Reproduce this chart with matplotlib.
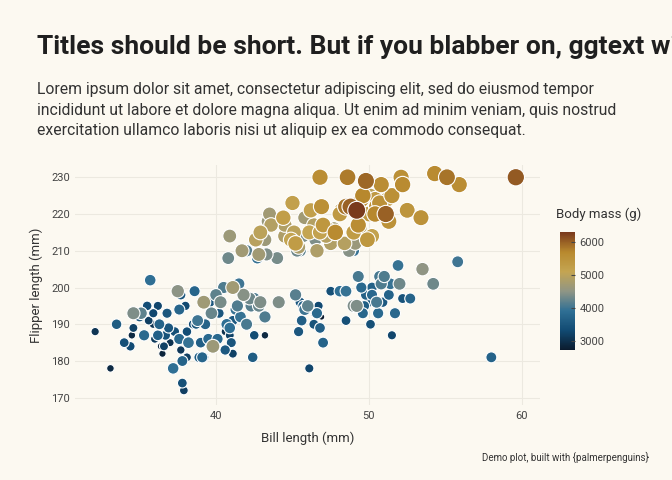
import matplotlib
matplotlib.use("Agg")
import matplotlib.pyplot as plt
from matplotlib.colors import LinearSegmentedColormap

BG = "#fcf9f1"
INK = "#1f1f1f"

# penguins: bill length (mm), flipper length (mm), body mass (g)
adelie_bill = [32.1, 33.1, 33.5, 34.0, 34.4, 34.5, 34.6, 34.6, 35.0, 35.1, 35.2, 35.3, 35.5, 35.6, 35.7, 35.9,
               36.0, 36.2, 36.3, 36.4, 36.5, 36.6, 36.7, 36.8, 36.9, 37.0, 37.2, 37.3, 37.5, 37.6, 37.7, 37.8,
               37.8, 37.9, 38.0, 38.1, 38.2, 38.5, 38.6, 38.7, 38.8, 39.0, 39.1, 39.2, 39.3, 39.5, 39.6, 39.7,
               39.8, 40.0, 40.1, 40.2, 40.3, 40.5, 40.6, 40.7, 40.8, 40.9, 41.0, 41.1, 41.3, 41.4, 41.5, 41.6,
               41.8, 42.0, 42.2, 42.3, 42.5, 42.8, 42.9, 43.2, 44.1, 45.8, 46.0, 39.6, 38.9, 37.6, 36.2, 35.9,
               41.1, 40.6, 39.2, 41.1, 38.1, 37.7]
adelie_flipper = [188, 178, 190, 185, 184, 187, 189, 193, 192, 193, 187, 187, 195, 191, 202, 190,
                  186, 187, 190, 184, 182, 184, 187, 193, 189, 185, 178, 188, 199, 194, 183, 174,
                  180, 172, 195, 181, 185, 190, 199, 190, 191, 185, 181, 196, 190, 186, 196, 193,
                  184, 198, 186, 193, 196, 200, 183, 190, 208, 189, 185, 200, 194, 195, 201, 192,
                  198, 190, 197, 195, 197, 195, 196, 192, 196, 194, 195, 186, 181, 186, 195, 193,
                  191, 188, 181, 182, 188, 198]
adelie_mass = [3050, 2900, 3600, 3400, 3325, 2900, 3200, 4400, 3450, 4200, 3150, 3800, 3350, 3175, 3900, 3050,
               3100, 3650, 3700, 2850, 2850, 3200, 3450, 3500, 3500, 3000, 3900, 3400, 4475, 3750, 3075, 3400,
               3700, 3150, 3300, 3175, 3950, 3325, 3750, 3450, 4000, 3650, 3750, 4675, 3700, 3800, 3500, 4250,
               4650, 4200, 3800, 3500, 4350, 4100, 3550, 3900, 4300, 3900, 3475, 4700, 3950, 4100, 4000, 3950,
               4450, 4050, 4275, 4150, 4100, 4250, 4400, 4100, 4400, 4000, 4200, 3550, 3600, 3800, 3250, 3275,
               3550, 3000, 3500, 3200, 3350, 3500]

chinstrap_bill = [40.9, 42.4, 42.5, 43.2, 45.2, 45.5, 45.6, 45.7, 46.1, 46.4, 46.5, 46.6, 46.7, 46.8, 46.9, 47.0,
                  47.5, 48.1, 48.5, 49.0, 49.2, 49.3, 49.5, 49.6, 49.7, 49.8, 50.0, 50.1, 50.2, 50.3, 50.5, 50.6,
                  50.7, 50.8, 50.9, 51.0, 51.3, 51.4, 51.5, 51.7, 51.9, 52.0, 52.2, 52.7, 53.5, 54.2, 55.8, 58.0,
                  49.0, 45.4, 48.5, 50.2]
chinstrap_flipper = [187, 181, 187, 187, 198, 196, 191, 195, 178, 190, 193, 193, 195, 189, 192, 185,
                     199, 199, 191, 195, 195, 203, 200, 193, 195, 198, 196, 190, 198, 197, 196, 193,
                     203, 201, 196, 203, 198, 201, 187, 193, 206, 201, 197, 197, 205, 201, 207, 181,
                     210, 188, 199, 200]
chinstrap_mass = [3200, 3600, 3350, 2900, 4150, 3500, 3650, 3650, 3250, 3450, 3500, 3800, 3300, 3650, 2700, 3700,
                  3400, 3900, 3400, 4400, 4400, 4050, 3800, 3750, 3600, 3675, 3450, 3400, 3775, 3300, 4050, 3800,
                  4050, 4100, 3550, 4100, 3700, 3950, 3250, 3775, 3950, 4300, 3450, 3725, 4500, 4300, 4000, 3700,
                  3950, 3525, 3950, 3675]

gentoo_bill = [40.9, 41.7, 42.0, 42.6, 42.7, 42.8, 42.9, 43.2, 43.3, 43.4, 43.5, 43.6, 44.0, 44.4, 44.5, 44.9,
               45.1, 45.2, 45.3, 45.4, 45.5, 45.7, 45.8, 46.1, 46.2, 46.4, 46.5, 46.6, 46.8, 46.9, 47.0, 47.2,
               47.3, 47.5, 47.7, 47.8, 48.1, 48.2, 48.4, 48.5, 48.6, 48.7, 48.8, 49.1, 49.2, 49.3, 49.4, 49.5,
               49.6, 49.8, 49.9, 50.0, 50.1, 50.2, 50.4, 50.5, 50.7, 50.8, 51.1, 51.3, 51.5, 52.1, 52.2, 52.5,
               53.4, 54.3, 55.1, 55.9, 59.6, 45.0, 46.8, 44.5, 50.4, 49.0, 47.4, 51.2]
gentoo_flipper = [214, 210, 210, 213, 208, 209, 215, 213, 209, 218, 220, 217, 208, 219, 214, 213,
                  215, 212, 210, 211, 210, 214, 219, 215, 221, 217, 213, 210, 215, 222, 217, 214,
                  216, 212, 216, 215, 220, 221, 212, 222, 230, 210, 222, 212, 221, 217, 216, 224,
                  225, 229, 213, 220, 225, 214, 224, 222, 223, 228, 220, 218, 225, 230, 228, 221,
                  219, 231, 230, 228, 230, 223, 230, 217, 220, 215, 213, 224]
gentoo_mass = [4650, 4700, 4150, 4950, 3950, 4700, 5000, 4650, 4400, 4600, 4700, 4900, 4350, 5250, 4850, 5100,
               5000, 5300, 4300, 4800, 4200, 4400, 4700, 5100, 5200, 4900, 4400, 4850, 5150, 5550, 5400, 4925,
               4875, 4875, 4750, 5650, 5350, 5100, 4925, 5850, 5800, 4450, 6000, 4625, 6300, 5600, 4925, 5650,
               5700, 5950, 5400, 5400, 5000, 5150, 5350, 5550, 5550, 5600, 6000, 5500, 5550, 5550, 5650, 5450,
               5500, 5650, 5850, 5600, 6050, 5200, 5600, 4875, 5700, 5300, 4725, 5200]

bill = adelie_bill + chinstrap_bill + gentoo_bill
flipper = adelie_flipper + chinstrap_flipper + gentoo_flipper
mass = adelie_mass + chinstrap_mass + gentoo_mass

x_ticks = [40, 50, 60]
y_ticks = [170, 180, 190, 200, 210, 220, 230]
cbar_ticks = [3000, 4000, 5000, 6000]

cmap = LinearSegmentedColormap.from_list(
    "mass", ["#0b1a2c", "#114a72", "#2f6f94", "#8f9585", "#c4a552", "#b8892e", "#7a3a1c"])

plt.rcParams["font.family"] = ["Roboto", "DejaVu Sans"]
fig = plt.figure(figsize=(6.72, 4.8), dpi=100, facecolor=BG)
ax = fig.add_axes([0.112, 0.156, 0.692, 0.5], facecolor=BG)

mmin, mmax = 2700, 6300
sizes = [22 + (m - mmin) / (mmax - mmin) * 145 for m in mass]
order = sorted(range(len(mass)), key=lambda i: mass[i])
sc = ax.scatter([bill[i] for i in order], [flipper[i] for i in order],
                c=[mass[i] for i in order], s=[sizes[i] for i in order],
                cmap=cmap, vmin=mmin, vmax=mmax, edgecolors="white", linewidths=0.8, zorder=3)

ax.set_xlim(30.8, 61.2)
ax.set_ylim(168, 233.3)
ax.set_xticks(x_ticks)
ax.set_yticks(y_ticks)
ax.grid(True, color="#ece9e0", linewidth=0.8)
ax.set_axisbelow(True)
for s in ax.spines.values():
    s.set_visible(False)
ax.tick_params(length=0, labelsize=8, colors="#444444", pad=4)
ax.set_xlabel("Bill length (mm)", fontsize=9.5, color="#333333", labelpad=8)
ax.set_ylabel("Flipper length (mm)", fontsize=9.5, color="#333333", labelpad=6)

cax = fig.add_axes([0.833, 0.27, 0.022, 0.246])
cb = fig.colorbar(sc, cax=cax, ticks=cbar_ticks)
cb.outline.set_visible(False)
cb.ax.tick_params(length=3, labelsize=8, colors="#444444", direction="in")
fig.text(0.827, 0.545, "Body mass (g)", fontsize=9.5, color="#333333", ha="left")

# the reference title runs past the right edge; keep it that way
fig.text(0.055, 0.902, "Titles should be short. But if you blabber on, ggtext will wrap them for you",
         fontsize=19, fontweight="bold", color=INK, ha="left", va="center")
fig.text(0.055, 0.712,
         "Lorem ipsum dolor sit amet, consectetur adipiscing elit, sed do eiusmod tempor\n"
         "incididunt ut labore et dolore magna aliqua. Ut enim ad minim veniam, quis nostrud\n"
         "exercitation ullamco laboris nisi ut aliquip ex ea commodo consequat.",
         fontsize=11.3, color="#333333", ha="left", va="bottom", linespacing=1.45)
fig.text(0.965, 0.04, "Demo plot, built with {palmerpenguins}", fontsize=7, color="#333333", ha="right")

fig.savefig("out.png", dpi=100, facecolor=BG)
